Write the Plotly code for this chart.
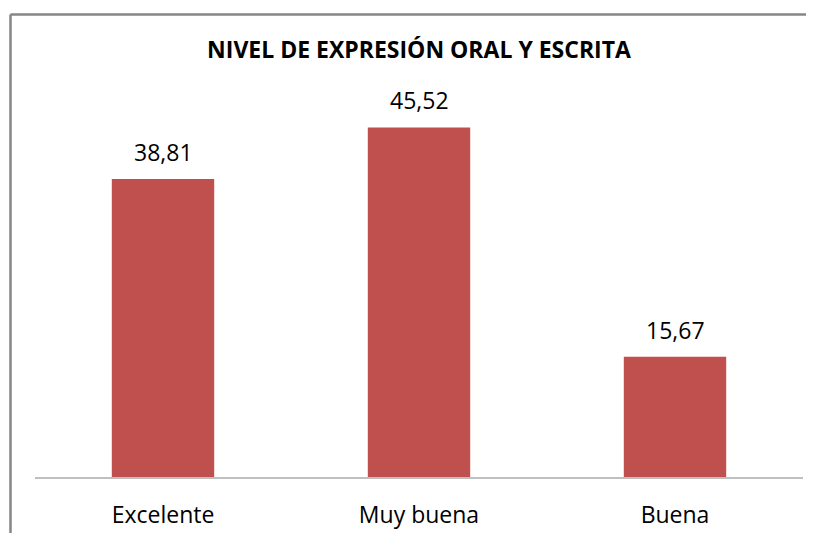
import plotly.graph_objects as go

# data
categorias = ["Excelente", "Muy buena", "Buena"]
porcentajes = [38.81, 45.52, 15.67]
titulo = "NIVEL DE EXPRESIÓN ORAL Y ESCRITA"

FONT = "Open Sans, Noto Sans, sans-serif"
ROJO = "#C0504D"

# the page body has an 8px margin, so the figure is offset by 8px
W, H = 806, 525

fig = go.Figure()
fig.add_trace(go.Bar(
    x=categorias,
    y=porcentajes,
    marker=dict(color=ROJO, line=dict(width=0)),
    hoverinfo="skip",
))

# data labels above each bar (decimal comma)
for cat, val in zip(categorias, porcentajes):
    fig.add_annotation(
        x=cat, y=val, text=f"{val:.2f}".replace(".", ","),
        showarrow=False, yanchor="bottom", yshift=9,
        font=dict(family=FONT, size=23, color="#000000"),
    )

# chart border (cropped: only left and top edges visible)
fig.add_shape(type="line", xref="paper", yref="paper",
              x0=-0.0319, x1=-0.0319, y0=-0.2, y1=1.2045,
              line=dict(color="#868686", width=2.5))
fig.add_shape(type="line", xref="paper", yref="paper",
              x0=-0.0319, x1=1.05, y0=1.2045, y1=1.2045,
              line=dict(color="#868686", width=2.5))

fig.update_layout(
    width=W, height=H,
    margin=dict(l=27, r=11, t=85, b=56),
    paper_bgcolor="white", plot_bgcolor="white",
    bargap=0.6,
    showlegend=False,
    title=dict(text=f"<b>{titulo}</b>", x=0.5, xref="paper", xanchor="center",
               y=1 - 41.5 / H, yref="container", yanchor="middle",
               font=dict(family=FONT, size=23, color="#000000")),
    font=dict(family=FONT, color="#000000"),
)

fig.update_xaxes(
    showline=True, linecolor="#BFBFBF", linewidth=1.5,
    showgrid=False, ticks="", ticklabelstandoff=17, automargin=False,
    tickfont=dict(family=FONT, size=23, color="#000000"),
)
fig.update_yaxes(range=[0, 50], visible=False, showgrid=False)

fig.write_html("out.html")
